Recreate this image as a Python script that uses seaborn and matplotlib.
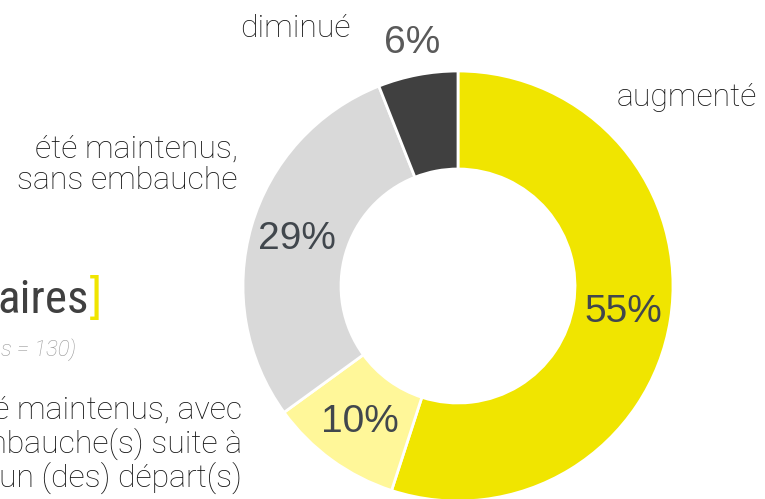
import matplotlib
matplotlib.use("Agg")
import matplotlib.pyplot as plt
import seaborn as sns
import numpy as np
from matplotlib import font_manager

categories = ["augmenté",
              "été maintenus, avec\nembauche(s) suite à\nun (des) départ(s)",
              "été maintenus,\nsans embauche",
              "diminué"]
values = [55, 10, 29, 6]
pct_labels = ["55%", "10%", "29%", "6%"]
colors = ["#F0E500", "#FFF799", "#D9D9D9", "#404040"]

sns.set_theme(style="white")
plt.rcParams['font.family'] = ['Roboto', 'DejaVu Sans']

names = {f.name for f in font_manager.fontManager.ttflist}
title_family = "Roboto Condensed" if "Roboto Condensed" in names else "Roboto"
title_size = 34 if title_family == "Roboto Condensed" else 29

W, H = 765, 499
fig = plt.figure(figsize=(W / 100, H / 100), dpi=100)
ax = fig.add_axes([0, 0, 1, 1])

cx, cy, R = 458, 286, 215
center = (cx, H - cy)

wedges, _ = ax.pie(values, colors=colors, startangle=90, counterclock=False,
                   radius=R, center=center,
                   wedgeprops=dict(width=98, edgecolor="white", linewidth=2))
ax.set_xlim(0, W)
ax.set_ylim(0, H)
ax.set_aspect("equal")
ax.axis("off")

# percentage labels positioned by wedge angles
dist = [0.78, 0.78, 0.78, 1.15]
pct_colors = ["#41474D", "#41474D", "#41474D", "#5A5A5A"]
for w, lab, d, c in zip(wedges, pct_labels, dist, pct_colors):
    ang = np.deg2rad((w.theta1 + w.theta2) / 2)
    x = cx + d * R * np.cos(ang)
    y = (H - cy) + d * R * np.sin(ang)
    ax.text(x, y, lab, ha="center", va="center", fontsize=28,
            color=c, family=["Liberation Sans", "DejaVu Sans"])

# category labels
lab_kw = dict(fontsize=23, color="#141414", fontweight="light")
ax.text(617, H - 97, categories[0], ha="left", va="center", **lab_kw)
ax.text(242, H - 445, categories[1], ha="right", va="center",
        multialignment="right", linespacing=1.1, **lab_kw)
ax.text(238, H - 165, categories[2], ha="right", va="center",
        multialignment="right", linespacing=1.1, **lab_kw)
ax.text(351, H - 28, categories[3], ha="right", va="center", **lab_kw)

# partially visible title and subtitle
ax.text(89, H - 300, "aires", ha="right", va="center", fontsize=title_size,
        color="#404040", family=[title_family, "DejaVu Sans"])
ax.text(90, H - 299, "]", ha="left", va="center", fontsize=33,
        color="#F0E500", fontweight="normal")
ax.text(76, H - 350, "s = 130)", ha="right", va="center", fontsize=16,
        color="#9A9A9A", style="italic", fontweight="light")

fig.savefig("out.png", dpi=100)
